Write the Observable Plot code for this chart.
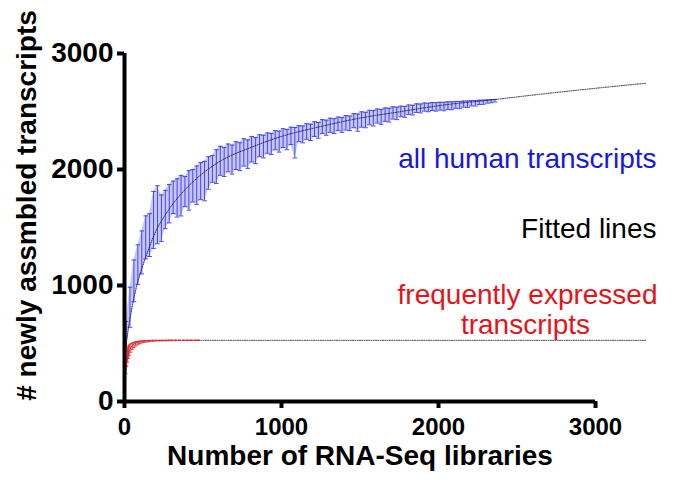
<!DOCTYPE html>
<html>
<head>
<meta charset="utf-8">
<script src="https://cdn.jsdelivr.net/npm/d3@7"></script>
<script src="https://cdn.jsdelivr.net/npm/@observablehq/plot@0.6"></script>
<style>
  html, body { margin: 0; padding: 0; background: #fff; }
</style>
</head>
<body>
<div id="chart"></div>
<script>
// ---- data ----
const xTicks = [0, 1000, 2000, 3000];
const yTicks = [0, 1000, 2000, 3000];

// all human transcripts: error bars (low / high) per number of libraries
const blueX = [10,35,60,85,110,135,160,185,210,235,260,285,310,335,360,385,410,435,460,485,510,535,560,585,610,635,660,685,710,735,760,785,810,835,860,885,910,935,960,985,1010,1035,1060,1085,1110,1135,1160,1185,1210,1235,1260,1285,1310,1335,1360,1385,1410,1435,1460,1485,1510,1535,1560,1585,1610,1635,1660,1685,1710,1735,1760,1785,1810,1835,1860,1885,1910,1935,1960,1985,2010,2035,2060,2085,2110,2135,2160,2185,2210,2235,2260,2285,2310,2335,2360];
const blueLo = [430,640,860,1010,1100,1230,1250,1320,1360,1380,1490,1540,1620,1590,1600,1680,1650,1720,1700,1740,1730,1830,1890,1880,1950,1940,1980,1960,2000,1990,2030,2010,2065,2050,2110,2100,2140,2130,2170,2150,2190,2170,2215,2100,2240,2230,2260,2250,2285,2270,2310,2295,2320,2310,2335,2320,2340,2335,2360,2330,2365,2360,2385,2375,2400,2390,2415,2410,2435,2430,2455,2450,2475,2470,2492,2488,2503,2498,2508,2503,2512,2506,2518,2515,2528,2524,2538,2535,2548,2548,2560,2562,2572,2575,2582];
const blueHi = [690,985,1220,1350,1470,1600,1620,1810,1860,1780,1820,1870,1900,1920,1950,1940,1990,2000,2030,2060,2070,2110,2120,2170,2200,2190,2220,2210,2240,2230,2265,2255,2285,2275,2300,2295,2315,2310,2335,2330,2352,2345,2365,2362,2378,2375,2395,2390,2412,2405,2430,2425,2442,2438,2452,2448,2465,2460,2482,2478,2497,2493,2510,2508,2522,2518,2530,2528,2540,2537,2546,2544,2556,2553,2566,2564,2573,2571,2577,2576,2580,2579,2584,2583,2587,2586,2590,2590,2593,2594,2597,2598,2600,2602,2604];

// frequently expressed transcripts: error bars
const redX  = [5,10,15,20,25,30,40,50,60,70,80,90,100,115,130,145,160,180,200,220,240,260,280,300,325,350,375,400,425,450,470];
const redLo = [200,240,300,340,370,395,425,450,465,478,488,495,501,506,510,514,517,519,521,522,523,523,524,524,524,525,525,525,525,525,525];
const redHi = [380,420,450,465,478,488,498,505,510,514,517,519,521,523,525,526,527,528,528,528,528,528,529,529,529,529,529,529,529,529,529];

// fitted lines
const blueFitX = [10,20,45,87,128,193,278,363,469,618,809,1019,1233,1488,1764,2000,2369,2656,3000,3325];
const blueFitY = [480,590,790,1043,1216,1448,1646,1793,1934,2078,2192,2293,2365,2440,2500,2550,2605,2650,2700,2744];
const redFitX = [3,10,20,35,55,80,110,160,220,300,3325];
const redFitY = [220,310,390,450,488,508,518,524,526,527,527];

const labels = {
  x: "Number of RNA-Seq libraries",
  y: "# newly assmbled transcripts",
  blue: "all human transcripts",
  fit: "Fitted lines",
  red1: "frequently expressed",
  red2: "transcripts"
};

// ---- build tables ----
const blue = blueX.map((x, i) => ({x, lo: blueLo[i], hi: blueHi[i]}));
const red = redX.map((x, i) => ({x, lo: redLo[i], hi: redHi[i]}));
const blueFit = blueFitX.map((x, i) => ({x, y: blueFitY[i]}));
const redFit = redFitX.map((x, i) => ({x, y: redFitY[i]}));

const cap = { draw(context, size) { const w = Math.sqrt(size / Math.PI); context.moveTo(-w, 0); context.lineTo(w, 0); } };

const blueC = "#4646ee";
const redC = "#e2262a";
const font = "'Liberation Sans', Arial, Helvetica, sans-serif";

const chart = Plot.plot({
  width: 677,
  height: 492,
  marginLeft: 124,
  marginRight: 82,
  marginTop: 53,
  marginBottom: 91,
  style: {fontFamily: font, background: "#fff", overflow: "visible"},
  x: {domain: [0, 3000], ticks: xTicks, tickFormat: d => String(d)},
  y: {domain: [0, 3000], ticks: yTicks, tickFormat: d => String(d)},
  marks: [
    Plot.areaY(blue, {x: "x", y1: "lo", y2: "hi", fill: "#bfc1f8", fillOpacity: 0.9}),
    Plot.ruleX(blue, {x: "x", y1: "lo", y2: "hi", stroke: blueC, strokeWidth: 1}),
    Plot.dot(blue, {x: "x", y: "hi", symbol: cap, r: 2.3, stroke: blueC, strokeWidth: 1}),
    Plot.dot(blue, {x: "x", y: "lo", symbol: cap, r: 2.3, stroke: blueC, strokeWidth: 1}),
    Plot.line(blueFit, {x: "x", y: "y", curve: "monotone-x", stroke: "#1a1a40", strokeWidth: 0.9, strokeDasharray: "1,1.3"}),
    Plot.line(redFit, {x: "x", y: "y", curve: "monotone-x", stroke: "#222", strokeWidth: 0.9, strokeDasharray: "1,1.3"}),
    Plot.ruleX(red, {x: "x", y1: "lo", y2: "hi", stroke: redC, strokeWidth: 0.9}),
    Plot.dot(red, {x: "x", y: "hi", symbol: cap, r: 1.5, stroke: redC, strokeWidth: 0.9}),
    Plot.dot(red, {x: "x", y: "lo", symbol: cap, r: 1.5, stroke: redC, strokeWidth: 0.9}),
    Plot.axisX({ticks: xTicks, tickFormat: d => String(d), tickSize: 7, tickPadding: 9, strokeWidth: 4, fontSize: 24, fontWeight: "bold", label: null, fill: "#000"}),
    Plot.axisY({ticks: yTicks, tickFormat: d => String(d), tickSize: 7, tickPadding: 4, strokeWidth: 4, fontSize: 28, fontWeight: "bold", label: null, fill: "#000"}),
    Plot.ruleX([0], {y1: 0, y2: 3000, stroke: "#000", strokeWidth: 4}),
    Plot.ruleY([0], {x1: 0, x2: 3000, stroke: "#000", strokeWidth: 4}),
    Plot.text([labels.y], {frameAnchor: "left", textAnchor: "middle", rotate: -90, dx: -97, dy: -22, fontSize: 28, fontWeight: "bold", fill: "#000"}),
    Plot.text([labels.x], {frameAnchor: "bottom", textAnchor: "middle", dy: 63, fontSize: 28, fontWeight: "bold", fill: "#000"}),
    Plot.text([labels.blue], {frameAnchor: "top-right", textAnchor: "end", dx: 61, dy: 95, fontSize: 28, fill: "#1717dd"}),
    Plot.text([labels.fit], {frameAnchor: "top-right", textAnchor: "end", dx: 61, dy: 165, fontSize: 28, fill: "#000"}),
    Plot.text([labels.red1], {frameAnchor: "top-right", textAnchor: "end", dx: 62, dy: 231, fontSize: 28, fill: "#e3141b"}),
    Plot.text([labels.red2], {frameAnchor: "top-right", textAnchor: "middle", dx: -70, dy: 261, fontSize: 28, fill: "#e3141b"})
  ]
});
document.getElementById("chart").appendChild(chart);
</script>
</body>
</html>
